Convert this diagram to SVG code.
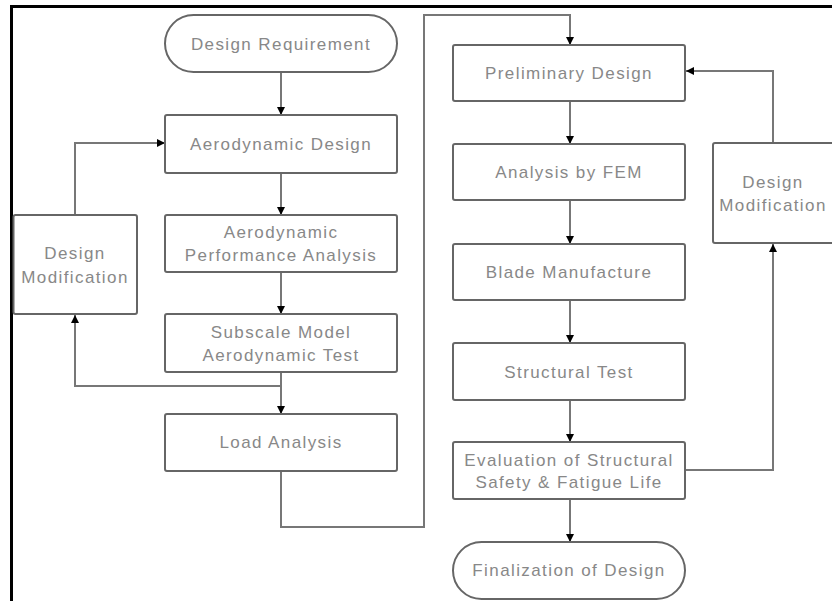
<svg xmlns="http://www.w3.org/2000/svg" width="832" height="601" viewBox="0 0 832 601">
<defs>
<style>
.box{fill:#fff;stroke:#666;stroke-width:2}
.t{font-family:"Liberation Sans",Arial,sans-serif;font-size:17px;letter-spacing:1.4px;fill:#888;text-anchor:middle;dominant-baseline:central}
.c{fill:none;stroke:#777;stroke-width:2}
.frame{fill:none;stroke:#000;stroke-width:3}
</style>
<marker id="ah" viewBox="0 0 10 10" refX="10" refY="5" markerWidth="8" markerHeight="8" markerUnits="userSpaceOnUse" orient="auto">
<path d="M0,0 L10,5 L0,10 z" fill="#000"/>
</marker>
</defs>
<rect width="832" height="601" fill="#fff"/>
<path class="frame" d="M11.5,601 V6.5 H832"/>
<g id="connectors">
<path class="c" d="M281,72 V115" marker-end="url(#ah)"/>
<path class="c" d="M281,173 V215" marker-end="url(#ah)"/>
<path class="c" d="M281,272 V314" marker-end="url(#ah)"/>
<path class="c" d="M281,372 V414" marker-end="url(#ah)"/>
<path class="c" d="M281,386 H75 V315" marker-end="url(#ah)"/>
<path class="c" d="M75,215 V143 H165" marker-end="url(#ah)"/>
<path class="c" d="M281,471 V527 H424 V15 H570 V45" marker-end="url(#ah)"/>
<path class="c" d="M570,101 V144" marker-end="url(#ah)"/>
<path class="c" d="M570,200 V244" marker-end="url(#ah)"/>
<path class="c" d="M570,300 V343" marker-end="url(#ah)"/>
<path class="c" d="M570,400 V442" marker-end="url(#ah)"/>
<path class="c" d="M570,499 V542" marker-end="url(#ah)"/>
<path class="c" d="M685,470 H773 V244" marker-end="url(#ah)"/>
<path class="c" d="M773,143 V71 H686" marker-end="url(#ah)"/>
</g>
<g id="design-requirement">
<rect class="box" x="165" y="15" width="232" height="57" rx="28.5"/>
<text class="t" x="281" y="44">Design Requirement</text>
</g>
<g id="aerodynamic-design">
<rect class="box" x="165" y="115" width="232" height="58" rx="2"/>
<text class="t" x="281" y="144">Aerodynamic Design</text>
</g>
<g id="aerodynamic-performance-analysis">
<rect class="box" x="165" y="215" width="232" height="57" rx="2"/>
<text class="t" x="281" y="232">Aerodynamic</text>
<text class="t" x="281" y="255">Performance Analysis</text>
</g>
<g id="subscale-model-test">
<rect class="box" x="165" y="314" width="232" height="58" rx="2"/>
<text class="t" x="281" y="332">Subscale Model</text>
<text class="t" x="281" y="355">Aerodynamic Test</text>
</g>
<g id="load-analysis">
<rect class="box" x="165" y="414" width="232" height="57" rx="2"/>
<text class="t" x="281" y="442">Load Analysis</text>
</g>
<g id="design-modification-left">
<rect class="box" x="13.5" y="215" width="123.5" height="99" rx="2"/>
<text class="t" x="75" y="253">Design</text>
<text class="t" x="75" y="277">Modification</text>
</g>
<g id="preliminary-design">
<rect class="box" x="453" y="45" width="232" height="56" rx="2"/>
<text class="t" x="569" y="73">Preliminary Design</text>
</g>
<g id="analysis-by-fem">
<rect class="box" x="453" y="144" width="232" height="56" rx="2"/>
<text class="t" x="569" y="172">Analysis by FEM</text>
</g>
<g id="blade-manufacture">
<rect class="box" x="453" y="244" width="232" height="56" rx="2"/>
<text class="t" x="569" y="272">Blade Manufacture</text>
</g>
<g id="structural-test">
<rect class="box" x="453" y="343" width="232" height="57" rx="2"/>
<text class="t" x="569" y="372">Structural Test</text>
</g>
<g id="evaluation">
<rect class="box" x="453" y="442" width="232" height="57" rx="2"/>
<text class="t" x="569" y="460">Evaluation of Structural</text>
<text class="t" x="569" y="482">Safety &amp; Fatigue Life</text>
</g>
<g id="finalization">
<rect class="box" x="453" y="542" width="232" height="57" rx="28.5"/>
<text class="t" x="569" y="570">Finalization of Design</text>
</g>
<g id="design-modification-right">
<rect class="box" x="713" y="143" width="130" height="100" rx="2"/>
<text class="t" x="773" y="182">Design</text>
<text class="t" x="773" y="205">Modification</text>
</g>
</svg>
